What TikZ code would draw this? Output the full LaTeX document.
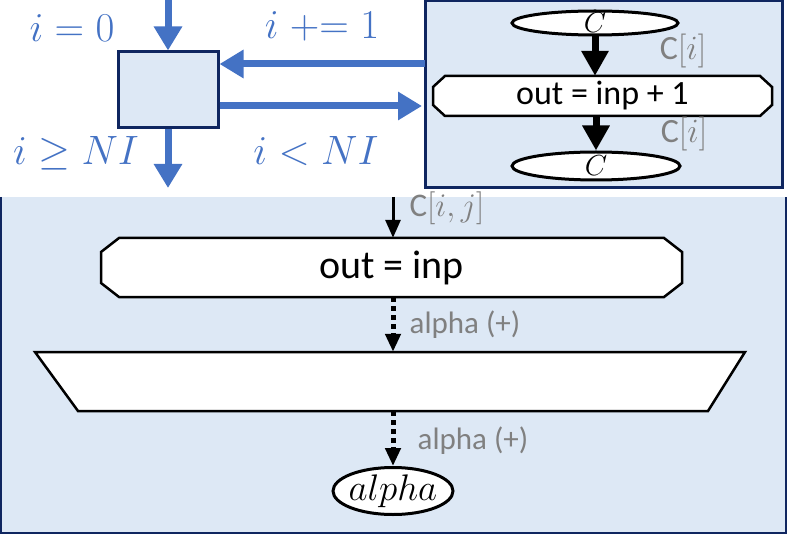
\RequirePackage{fix-cm}
\documentclass[tikz,border=0pt]{standalone}
\usepackage{fontspec}
\setmainfont{Carlito}
\usetikzlibrary{arrows.meta,shapes.geometric}

\definecolor{flowblue}{HTML}{4472C4}
\definecolor{boxfill}{HTML}{DDE8F5}
\definecolor{boxline}{HTML}{0F2660}
\definecolor{taggray}{HTML}{808080}

\begin{document}
\begin{tikzpicture}[x=1pt,y=-1pt,
  panel/.style={rectangle,fill=boxfill,draw=boxline,line width=3pt,inner sep=0pt},
  term/.style={ellipse,fill=white,draw=black,line width=3pt,inner sep=0pt},
  outline/.style={fill=white,draw=black,line width=2.5pt,line join=miter},
  cuttext/.style={rectangle,inner sep=0pt},
  bluelabel/.style={text=flowblue,font=\fontsize{41}{45}\selectfont},
  tag/.style={text=taggray,font=\fontsize{31}{34}\selectfont,inner sep=0pt},
  bluearrow/.style={draw=flowblue,line width=7pt,-{Triangle[length=24pt,width=27pt]}},
  thickarrow/.style={line width=7pt,-{Triangle[length=25pt,width=26pt]}},
  thinarrow/.style={line width=3pt,-{Triangle[length=18pt,width=15pt]}},
  dotarrow/.style={line width=5pt,dash pattern=on 5pt off 4pt,-{Triangle[length=18pt,width=15pt]}}]

\useasboundingbox (0,0) rectangle (789,537);

% Outer panel
\fill[boxfill] (1,197) rectangle (786,533);
\draw[boxline,line width=2pt] (1,197) -- (1,533) -- (786,533) -- (786,197);

% Loop panel and map panel
\node[panel,minimum width=100pt,minimum height=76pt] (loop) at (168,90) {};
\node[panel,minimum width=357pt,minimum height=187pt] (map) at (603.5,94.5) {};

% Loop labels
\node[bluelabel] (init) at (72,28) {$i = 0$};
\node[bluelabel] (incr) at (322,26) {$i \mathrel{+}= 1$};
\node[bluelabel] (stop) at (76,153) {$i \geq NI$};
\node[bluelabel] (cont) at (316,151) {$i < NI$};

% Loop arrows
\coordinate (start) at (168,0);
\coordinate (exit) at (168,188);
\coordinate (back) at (425,64);
\coordinate (enter) at (422,106);
\draw[bluearrow] (start) -- (loop.north);
\draw[bluearrow] (loop.south) -- (exit);
\draw[bluearrow] (back) -- (loop.east |- back);
\draw[bluearrow] (loop.east |- enter) -- (enter);

% Map body
\draw[outline] (445,76) -- (760,76) -- (772,87) -- (772,105) -- (760,116)
  -- (445,116) -- (433,105) -- (433,87) -- cycle;
\node[cuttext,minimum width=339pt,minimum height=40pt,
  font=\fontsize{34}{38}\selectfont] (inc) at (602.5,96) {out = inp + 1};
\node[term,minimum width=166pt,minimum height=24pt,
  label={[font=\fontsize{29}{31}\selectfont]center:$C$}] (cin) at (595,23) {};
\node[term,minimum width=168pt,minimum height=28pt,
  label={[font=\fontsize{29}{31}\selectfont]center:$C$}] (cout) at (596,166) {};
\draw[thickarrow] (cin.south) -- (cin.south |- inc.north);
\draw[thickarrow] (cout.north |- inc.south) -- (cout.north);
\node[tag,font=\fontsize{34}{36}\selectfont] (tagin) at (683,51) {C$[i]$};
\node[tag,font=\fontsize{34}{36}\selectfont] (tagout) at (684,134) {C$[i]$};

% Reduction body
\draw[outline] (119,238) -- (664,238) -- (682,252) -- (682,283) -- (664,297)
  -- (119,297) -- (101,283) -- (101,252) -- cycle;
\node[cuttext,minimum width=581pt,minimum height=59pt,
  font=\fontsize{40}{44}\selectfont] (copy) at (391.5,267.5) {out = inp};
\draw[outline] (35,352) -- (745,352) -- (708,411) -- (78,411) -- cycle;
\node[cuttext,minimum width=710pt,minimum height=59pt] (reduce) at (390,381.5) {};
\node[term,minimum width=120pt,minimum height=47pt,
  label={[font=\fontsize{37}{40}\selectfont]center:$alpha$}] (result) at (393,491) {};

\coordinate (feed) at (393,197);
\draw[thinarrow] (feed) -- (feed |- copy.north);
\draw[dotarrow] (feed |- copy.south) -- (feed |- reduce.north);
\draw[dotarrow] (feed |- reduce.south) -- (result.north);
\node[tag,font=\fontsize{33}{36}\selectfont] (tagcopy) at (447,208) {C$[i,j]$};
\node[tag] (tagred) at (465,325) {alpha (+)};
\node[tag] (tagres) at (473,441) {alpha (+)};

\end{tikzpicture}
\end{document}
